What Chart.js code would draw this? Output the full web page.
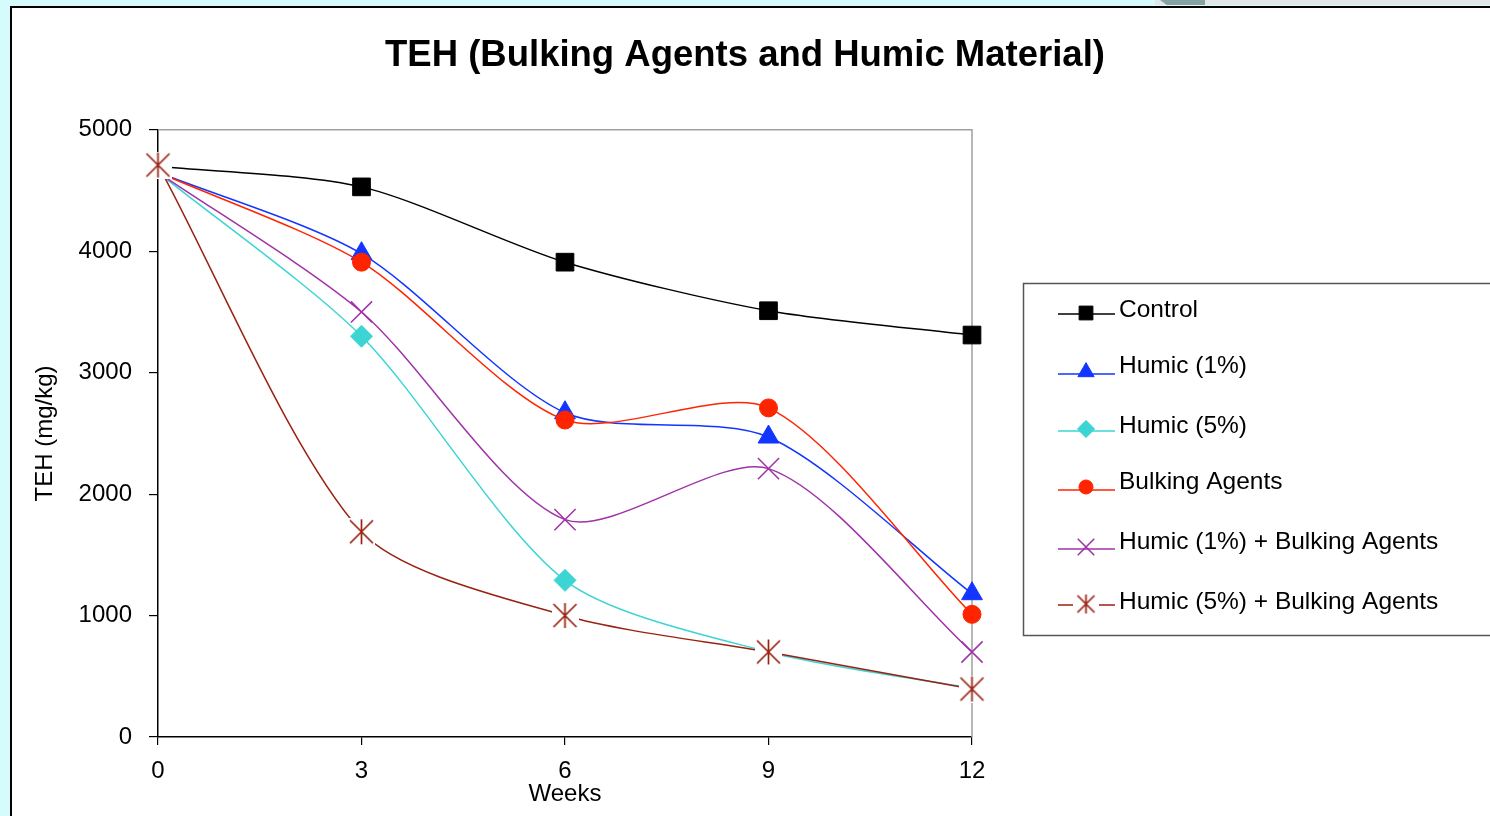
<!DOCTYPE html>
<html>
<head>
<meta charset="utf-8">
<script src="https://cdn.jsdelivr.net/npm/chart.js@4/dist/chart.umd.min.js"></script>
<style>
  html, body { margin: 0; padding: 0; }
  body { width: 1490px; height: 816px; background: #d6fbfd; position: relative; overflow: hidden; font-family: 'Liberation Sans', Arial, sans-serif; }
  #topstrip { position: absolute; left: 1155px; top: 0; width: 340px; height: 5px; background: #e1e6e6; }
  #topshape { position: absolute; left: 1160px; top: 0; width: 45px; height: 5px; background: #87a2a3; clip-path: polygon(0 0, 100% 0, 100% 100%, 15% 100%); }
  #panel { position: absolute; left: 10px; top: 6px; width: 1500px; height: 830px; background: #fff; border-left: 2px solid #000; border-top: 2px solid #000; }
  #chart { position: absolute; left: 0; top: 0; }
</style>
</head>
<body>
<div id="topstrip"></div>
<div id="topshape"></div>
<div id="panel"></div>
<canvas id="chart" width="1490" height="816"></canvas>
<script>
// data (TEH, mg/kg)
const weeks = [0, 3, 6, 9, 12];
const seriesNames = ['Control', 'Humic (1%)', 'Humic (5%)', 'Bulking Agents', 'Humic (1%) + Bulking Agents', 'Humic (5%) + Bulking Agents'];
const control = [4700, 4530, 3910, 3510, 3310];
const humic1 = [4650, 3980, 2670, 2470, 1180];
const humic5 = [4650, 3300, 1290, 700, 400];
const bulking = [4650, 3910, 2610, 2710, 1010];
const humic1Bulking = [4650, 3500, 1790, 2210, 700];
const humic5Bulking = [4710, 1690, 1000, 700, 395];
const yTicks = [0, 1000, 2000, 3000, 4000, 5000];

const FONT = "'Liberation Sans', Arial, sans-serif";

// asterisk marker (X with a vertical bar) on a white patch, like the original
function makeStar(size, color, patch) {
    const c = document.createElement('canvas');
    c.width = size;
    c.height = size;
    const g = c.getContext('2d');
    if (patch) {
        g.fillStyle = '#fff';
        g.fillRect(0, 0, size, size);
    }
    g.strokeStyle = color;
    g.lineWidth = 1.7;
    const m = 2, e = size - 2;
    g.beginPath();
    g.moveTo(m, m); g.lineTo(e, e);
    g.moveTo(e, m); g.lineTo(m, e);
    g.moveTo(size / 2, m - 1); g.lineTo(size / 2, e + 1);
    g.stroke();
    return c;
}

const starPlot = makeStar(27, '#992211', true);
const starLegend = makeStar(21, '#992211', false);

function pts(values) {
    return values.map((v, i) => ({ x: weeks[i], y: v }));
}

const styles = [
    { color: '#000000', style: 'rect', radius: 12.5, fill: '#000000', bw: 1 },
    { color: '#1236ff', style: 'triangle', radius: 12, fill: '#1236ff', bw: 1 },
    { color: '#3dd4d4', style: 'rectRot', radius: 11, fill: '#3dd4d4', bw: 1 },
    { color: '#ff2400', style: 'circle', radius: 9, fill: '#ff2400', bw: 1 },
    { color: '#a032a8', style: 'crossRot', radius: 15, fill: '#a032a8', bw: 1.5 },
    { color: '#992211', style: starPlot, radius: 12, fill: '#992211', bw: 1.5 }
];
const allValues = [control, humic1, humic5, bulking, humic1Bulking, humic5Bulking];

const datasets = allValues.map((vals, i) => {
    const s = styles[i];
    // no markers at week 0, except the asterisk series
    const radii = weeks.map((w, j) => (j === 0 && i !== 5) ? 0 : s.radius);
    return {
        label: seriesNames[i],
        data: pts(vals),
        borderColor: s.color,
        backgroundColor: s.fill,
        borderWidth: 1.5,
        pointStyle: s.style,
        pointRadius: radii,
        pointBorderWidth: s.bw,
        pointBorderColor: s.color,
        pointBackgroundColor: s.fill,
        tension: 0.27,
        clip: false,
        xAxisID: 'x',
        yAxisID: 'y',
        order: 6 - i
    };
});

// gray top / right frame of the plot area
const frame = {
    id: 'frame',
    beforeDatasetsDraw(chart) {
        const { ctx, chartArea: a } = chart;
        ctx.save();
        ctx.strokeStyle = '#a0a0a0';
        ctx.lineWidth = 1.5;
        ctx.beginPath();
        ctx.moveTo(a.left, a.top);
        ctx.lineTo(a.right, a.top);
        ctx.lineTo(a.right, a.bottom);
        ctx.stroke();
        ctx.restore();
    }
};

// boxed legend on the right, line + marker + text
const boxLegend = {
    id: 'boxLegend',
    afterDraw(chart) {
        const ctx = chart.ctx;
        const lineYs = [314, 374, 431, 490, 549, 605];
        const textYs = [310, 366, 426, 482, 542, 602];
        ctx.save();
        ctx.fillStyle = '#fff';
        ctx.fillRect(1023, 283, 480, 352);
        ctx.strokeStyle = '#555';
        ctx.lineWidth = 1.5;
        ctx.strokeRect(1023.5, 283.5, 480, 352);
        chart.data.datasets.forEach((ds, i) => {
            const s = styles[i];
            const y = lineYs[i];
            ctx.strokeStyle = s.color;
            ctx.lineWidth = 1.5;
            ctx.beginPath();
            if (i === 5) {
                ctx.moveTo(1058, y); ctx.lineTo(1073, y);
                ctx.moveTo(1099, y); ctx.lineTo(1115, y);
            } else {
                ctx.moveTo(1058, y); ctx.lineTo(1115, y);
            }
            ctx.stroke();
            ctx.fillStyle = s.fill;
            ctx.strokeStyle = s.color;
            ctx.lineWidth = s.bw;
            const mY = (i === 3) ? y - 3 : (i === 0 ? y - 1 : y - 2);
            Chart.helpers.drawPoint(ctx, {
                pointStyle: i === 5 ? starLegend : s.style,
                radius: s.radius * 0.78,
                rotation: 0,
                borderWidth: s.bw
            }, 1086, i === 5 ? y - 1 : mY);
            ctx.fillStyle = '#000';
            ctx.font = '24.5px ' + FONT;
            ctx.textAlign = 'left';
            ctx.textBaseline = 'middle';
            ctx.fillText(ds.label, 1119, textYs[i]);
        });
        ctx.restore();
    }
};

new Chart(document.getElementById('chart'), {
    type: 'line',
    data: { datasets: datasets },
    plugins: [frame, boxLegend],
    options: {
        responsive: false,
        animation: false,
        events: [],
        layout: { padding: 0 },
        plugins: {
            legend: { display: false },
            tooltip: { enabled: false },
            title: {
                display: true,
                text: 'TEH (Bulking Agents and Humic Material)',
                color: '#000',
                font: { family: FONT, size: 36.5, weight: 'bold' },
                padding: { top: 34, bottom: 52 }
            }
        },
        scales: {
            x: {
                type: 'linear',
                min: 0,
                max: 12,
                afterFit: s => { s.height = 79; },
                afterBuildTicks: s => { s.ticks = weeks.map(v => ({ value: v })); },
                grid: { display: true, drawOnChartArea: false, drawTicks: true, tickLength: 8, color: '#000', lineWidth: 1.2 },
                border: { color: '#000', width: 1.5 },
                ticks: { color: '#000', font: { family: FONT, size: 24 }, padding: 12, maxRotation: 0, callback: v => String(v) },
                title: { display: true, text: 'Weeks', color: '#000', font: { family: FONT, size: 24 }, padding: { top: 0, bottom: 7 } }
            },
            y: {
                min: 0,
                max: 5000,
                afterFit: s => { s.width = 158; },
                afterBuildTicks: s => { s.ticks = yTicks.map(v => ({ value: v })); },
                grid: { display: true, drawOnChartArea: false, drawTicks: true, tickLength: 9, color: '#000', lineWidth: 1.2 },
                border: { color: '#000', width: 1.5 },
                ticks: { color: '#000', font: { family: FONT, size: 24 }, padding: 17, callback: v => String(v) },
                title: { display: true, text: 'TEH (mg/kg)', color: '#000', font: { family: FONT, size: 24 }, padding: { top: 31, bottom: 0 } }
            },
            // empty right-hand space that holds the legend box
            spacer: {
                type: 'linear',
                position: 'right',
                display: true,
                afterFit: s => { s.width = 518; },
                grid: { display: false },
                border: { display: false },
                ticks: { display: false }
            }
        }
    }
});
</script>
</body>
</html>
